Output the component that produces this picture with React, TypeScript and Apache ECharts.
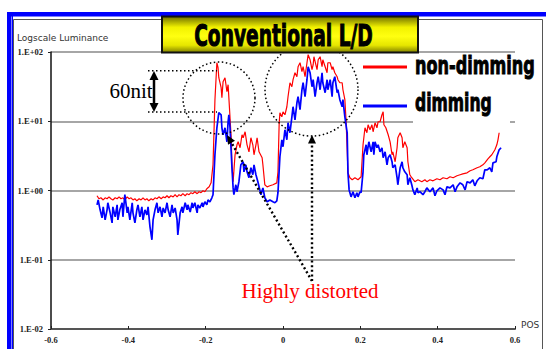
import React, { useEffect, useRef } from "react";
import * as echarts from "echarts";

const titleText = "Conventional L/D";
const seriesNames = ["non-dimming", "dimming"];
const xAxisName = "POS";
const yAxisName = "Logscale Luminance";
const yTickLabels = ["1.E-02", "1.E-01", "1.E+00", "1.E+01", "1.E+02"];

const nonDimming: number[][] = [
  [-0.481,0.84],[-0.476,0.76],[-0.471,0.785],[-0.465,0.73],[-0.460,0.785],[-0.455,0.76],[-0.450,0.81],[-0.445,0.76],
  [-0.440,0.73],[-0.434,0.785],[-0.429,0.76],[-0.424,0.81],[-0.419,0.76],[-0.414,0.785],[-0.409,0.73],[-0.403,0.81],
  [-0.398,0.76],[-0.393,0.785],[-0.388,0.73],[-0.383,0.76],[-0.378,0.71],[-0.372,0.76],[-0.367,0.73],[-0.362,0.785],
  [-0.357,0.73],[-0.352,0.76],[-0.347,0.71],[-0.341,0.76],[-0.336,0.73],[-0.331,0.785],[-0.326,0.76],[-0.321,0.81],
  [-0.315,0.76],[-0.310,0.81],[-0.305,0.785],[-0.300,0.84],[-0.295,0.785],[-0.290,0.84],[-0.284,0.81],[-0.279,0.87],
  [-0.274,0.81],[-0.269,0.87],[-0.264,0.84],[-0.259,0.90],[-0.253,0.84],[-0.248,0.90],[-0.243,0.87],[-0.238,0.93],
  [-0.233,0.90],[-0.228,0.96],[-0.222,0.90],[-0.217,0.96],[-0.212,0.93],[-0.207,0.99],[-0.202,0.96],[-0.197,1.06],
  [-0.191,1.13],[-0.186,1.29],
  [-0.181,2.35],[-0.176,20.5],[-0.171,70.0],[-0.168,59.3],[-0.166,42.5],[-0.160,30.5],[-0.158,21.9],[-0.155,37.2],
  [-0.150,42.5],[-0.145,26.7],[-0.142,33.7],[-0.140,21.9],[-0.134,5.78],[-0.132,2.35],[-0.129,1.34],[-0.124,3.28],
  [-0.119,4.57],[-0.116,5.05],[-0.111,4.14],[-0.106,6.38],[-0.103,5.78],[-0.098,7.05],[-0.093,4.57],[-0.088,3.62],
  [-0.083,5.78],[-0.078,4.57],[-0.075,3.28],[-0.070,4.57],[-0.067,5.78],[-0.062,3.62],[-0.054,2.97],[-0.052,2.35],
  [-0.047,1.21],[-0.041,1.13],[-0.034,1.17],[-0.026,1.21],[-0.016,1.29],[-0.013,1.86],[-0.010,8.90],[-0.008,13.3],
  [-0.003,11.6],[0.000,13.7],[0.005,12.4],[0.010,16.2],[0.013,22.6],[0.018,36.0],[0.023,31.5],[0.026,39.8],
  [0.031,50.2],[0.036,44.0],[0.039,61.3],[0.044,70.0],[0.049,51.9],[0.052,61.3],[0.057,44.0],[0.062,70.0],
  [0.065,91.4],[0.070,77.4],[0.075,55.5],[0.078,65.5],[0.080,85.5],[0.088,55.5],[0.091,77.4],[0.096,85.5],
  [0.101,61.3],[0.103,77.4],[0.109,61.3],[0.114,50.2],[0.116,70.0],[0.122,70.0],[0.127,55.5],[0.129,61.3],
  [0.134,50.2],[0.140,44.0],[0.142,39.8],[0.147,36.0],[0.153,36.0],[0.155,28.5],[0.160,20.5],[0.163,10.5],
  [0.166,3.87],[0.168,1.80],[0.173,1.53],[0.179,1.43],[0.186,1.53],[0.194,1.43],[0.202,1.58],[0.207,4.57],
  [0.212,8.05],[0.217,6.82],[0.220,8.90],[0.225,7.53],[0.230,8.90],[0.233,7.05],[0.238,9.51],[0.243,8.05],
  [0.246,9.84],[0.251,9.84],[0.256,12.4],[0.259,13.7],[0.261,8.90],[0.266,8.05],[0.272,6.38],[0.277,5.05],
  [0.282,3.28],[0.284,3.62],[0.290,2.60],[0.295,4.14],[0.297,5.78],[0.303,6.82],[0.308,5.78],[0.310,4.14],
  [0.315,5.05],[0.321,4.14],[0.323,2.60],[0.328,1.69],[0.333,1.53],[0.341,1.34],[0.349,1.43],[0.359,1.34],
  [0.367,1.43],[0.372,1.34],[0.380,1.43],[0.388,1.38],[0.398,1.48],[0.406,1.43],[0.414,1.53],[0.424,1.48],
  [0.432,1.58],[0.440,1.53],[0.450,1.63],[0.458,1.69],[0.465,1.74],[0.476,1.80],[0.484,1.93],[0.491,1.99],
  [0.502,2.13],[0.509,2.20],[0.517,2.35],[0.522,2.51],[0.530,2.87],[0.535,3.07],[0.540,3.28],[0.548,3.87],
  [0.553,4.57],[0.556,5.40],[0.559,6.82]
];

const dimming: number[][] = [
  [-0.481,0.62],[-0.478,0.73],[-0.473,0.526],[-0.468,0.403],[-0.465,0.58],[-0.460,0.377],[-0.455,0.526],[-0.453,0.665],
  [-0.447,0.476],[-0.442,0.341],[-0.440,0.58],[-0.434,0.417],[-0.429,0.62],[-0.427,0.377],[-0.422,0.526],[-0.416,0.665],
  [-0.414,0.417],[-0.409,0.87],[-0.403,0.476],[-0.401,0.58],[-0.396,0.377],[-0.390,0.665],[-0.388,0.476],[-0.383,0.341],
  [-0.378,0.526],[-0.375,0.62],[-0.370,0.417],[-0.365,0.58],[-0.362,0.377],[-0.357,0.526],[-0.352,0.445],[-0.349,0.58],
  [-0.344,0.299],[-0.339,0.194],[-0.336,0.377],[-0.331,0.526],[-0.326,0.665],[-0.323,0.476],[-0.318,0.58],[-0.313,0.417],
  [-0.310,0.56],[-0.305,0.476],[-0.300,0.665],[-0.297,0.526],[-0.292,0.417],[-0.287,0.62],[-0.284,0.476],[-0.279,0.56],
  [-0.274,0.377],[-0.272,0.229],[-0.266,0.476],[-0.261,0.58],[-0.259,0.476],[-0.253,0.665],[-0.248,0.526],[-0.246,0.62],
  [-0.240,0.49],[-0.235,0.665],[-0.233,0.56],[-0.228,0.665],[-0.222,0.476],[-0.220,0.62],[-0.215,0.56],[-0.209,0.665],
  [-0.207,0.58],[-0.202,0.687],[-0.197,0.62],[-0.194,0.73],[-0.189,0.687],[-0.184,0.785],[-0.181,0.87],
  [-0.176,3.28],[-0.171,8.05],[-0.166,13.3],[-0.160,12.4],[-0.158,8.05],[-0.155,6.38],[-0.150,8.05],[-0.145,5.05],
  [-0.142,9.84],[-0.140,12.4],[-0.137,8.05],[-0.132,2.13],[-0.129,1.09],[-0.127,0.87],[-0.122,1.21],[-0.119,0.96],
  [-0.114,1.34],[-0.109,2.35],[-0.103,2.60],[-0.101,1.86],[-0.096,2.35],[-0.093,1.86],[-0.088,1.53],[-0.083,2.13],
  [-0.078,1.69],[-0.075,2.35],[-0.070,1.69],[-0.065,1.34],[-0.057,0.87],[-0.052,1.09],[-0.047,0.785],[-0.041,0.687],
  [-0.034,0.73],[-0.026,0.687],[-0.021,0.665],[-0.016,0.71],[-0.013,0.93],[-0.008,3.07],[-0.003,5.40],[0.000,4.28],
  [0.005,7.53],[0.010,5.40],[0.013,9.51],[0.018,6.82],[0.023,11.6],[0.026,16.2],[0.031,10.5],[0.036,18.5],
  [0.039,22.6],[0.044,14.7],[0.049,28.5],[0.052,36.0],[0.057,22.6],[0.062,39.8],[0.065,61.3],[0.070,50.2],
  [0.075,31.5],[0.078,39.8],[0.083,22.6],[0.088,36.0],[0.091,44.0],[0.096,28.5],[0.101,50.2],[0.103,36.0],
  [0.109,25.8],[0.114,39.8],[0.116,28.5],[0.122,39.8],[0.127,22.6],[0.129,36.0],[0.134,44.0],[0.140,25.8],
  [0.142,28.5],[0.147,20.5],[0.153,16.2],[0.155,20.5],[0.160,11.6],[0.166,6.82],[0.168,1.80],[0.171,1.02],
  [0.176,0.81],[0.181,0.96],[0.186,0.785],[0.191,0.93],[0.194,0.81],[0.199,0.96],[0.202,0.93],
  [0.207,1.86],[0.209,3.28],[0.215,4.57],[0.217,3.28],[0.222,5.05],[0.228,3.62],[0.233,5.05],[0.235,3.28],
  [0.238,5.05],[0.243,4.14],[0.246,4.57],[0.251,3.62],[0.256,4.14],[0.259,2.97],[0.264,3.62],[0.269,2.35],
  [0.272,2.97],[0.277,3.28],[0.282,2.60],[0.284,2.13],[0.290,2.35],[0.295,1.53],[0.297,1.21],[0.303,2.13],
  [0.308,2.60],[0.310,2.13],[0.315,1.86],[0.321,1.69],[0.323,1.21],[0.328,1.53],[0.333,1.21],[0.336,1.02],
  [0.341,0.87],[0.347,1.09],[0.349,0.93],[0.354,0.96],[0.362,0.87],[0.367,0.96],
  [0.372,1.09],[0.380,0.96],[0.388,1.09],[0.393,0.84],[0.398,0.99],[0.406,1.09],[0.414,1.02],[0.419,0.87],
  [0.424,1.13],[0.432,1.09],[0.440,1.21],[0.445,0.96],[0.450,1.13],[0.458,1.29],[0.465,1.21],[0.471,1.02],
  [0.476,1.34],[0.484,1.29],[0.491,1.43],[0.496,1.17],[0.502,1.38],[0.509,1.53],[0.517,1.48],[0.522,1.99],
  [0.528,1.99],[0.535,2.13],[0.540,1.86],[0.543,2.51],[0.551,2.60],[0.553,3.07],[0.559,3.87],[0.564,4.14]
];

const annotationText = ["60nit", "Highly distorted"];

export default function App() {
  const ref = useRef<HTMLDivElement>(null);

  useEffect(() => {
    const chart = echarts.init(ref.current!, null, { renderer: "svg" });
    const heavy = "'DejaVu Sans', sans-serif";
    const dotStyle = { stroke: "#000", lineWidth: 1.5, lineDash: [1.5, 2.5], fill: "none" };
    const bigDot = { stroke: "#000", lineWidth: 2.4, lineDash: [2, 2.6], fill: "none" };
    const Z = 50;

    chart.setOption({
      animation: false,
      backgroundColor: "#ffffff",
      grid: { left: 51, top: 52, width: 464, height: 277, containLabel: false },
      xAxis: {
        type: "value",
        min: -0.6,
        max: 0.6,
        interval: 0.2,
        splitLine: { show: false },
        axisLine: { show: true, onZero: false, lineStyle: { color: "#555", width: 2 } },
        axisTick: { show: true, length: 3, inside: true, lineStyle: { color: "#222", width: 1 } },
        axisLabel: {
          margin: 6,
          color: "#222",
          fontFamily: "'Liberation Serif', serif",
          fontWeight: "bold",
          fontSize: 8.5,
          formatter: (v: number) => (Math.abs(v) < 1e-9 ? "0" : v.toFixed(1)),
        },
      },
      yAxis: {
        type: "log",
        logBase: 10,
        min: 0.01,
        max: 100,
        axisLine: { show: true, onZero: false, lineStyle: { color: "#111", width: 1.5 } },
        axisTick: { show: true, length: 3, lineStyle: { color: "#222" } },
        splitLine: { show: true, lineStyle: { color: "#888", width: 1.5 } },
        minorTick: { show: false },
        axisLabel: {
          margin: 8,
          color: "#222",
          fontFamily: "'Liberation Serif', serif",
          fontWeight: "bold",
          fontSize: 8.5,
          formatter: (v: number) => {
            const e = Math.round(Math.log10(v));
            return yTickLabels[e + 2] ?? "";
          },
        },
      },
      series: [
        {
          name: seriesNames[0],
          type: "line",
          data: nonDimming,
          showSymbol: false,
          symbol: "none",
          lineStyle: { color: "#ff0000", width: 1.2 },
          z: 3,
        },
        {
          name: seriesNames[1],
          type: "line",
          data: dimming,
          showSymbol: false,
          symbol: "none",
          lineStyle: { color: "#0000ff", width: 1.7 },
          z: 4,
        },
      ],
      graphic: [
        // outer blue frame
        { type: "rect", z: Z, shape: { x: 7, y: 12, width: 539, height: 4.5 }, style: { fill: "#0000ff" } },
        { type: "rect", z: Z, shape: { x: 7, y: 12, width: 4.5, height: 337 }, style: { fill: "#0000ff" } },
        { type: "line", z: Z, shape: { x1: 12.5, y1: 16, x2: 12.5, y2: 349 }, style: { stroke: "#0000ff", lineWidth: 1 } },
        // inner frame
        {
          type: "polyline", z: Z,
          shape: { points: [[13.5, 349], [13.5, 19.5], [542.5, 19.5], [542.5, 349]] },
          style: { stroke: "#555", lineWidth: 1, fill: "none" },
        },
        // y-axis name
        {
          type: "text", z: Z, x: 17, y: 37.5,
          style: { text: yAxisName, fill: "#333", fontSize: 9, fontFamily: "'DejaVu Sans', sans-serif", align: "left", verticalAlign: "middle" },
        },
        // x-axis name
        {
          type: "text", z: Z, x: 521, y: 324.5,
          style: { text: xAxisName, fill: "#333", fontSize: 9, fontFamily: "'DejaVu Sans', sans-serif", align: "left", verticalAlign: "middle" },
        },
        // legend background
        { type: "rect", z: Z, shape: { x: 413, y: 55, width: 97, height: 70 }, style: { fill: "#ffffff" } },
        { type: "line", z: Z, shape: { x1: 363, y1: 67, x2: 407, y2: 67 }, style: { stroke: "#ff0000", lineWidth: 3 } },
        { type: "line", z: Z, shape: { x1: 363, y1: 106, x2: 407, y2: 106 }, style: { stroke: "#0000ff", lineWidth: 3 } },
        {
          type: "text", z: Z + 1, x: 415, y: 66, scaleX: 0.7, scaleY: 1.05,
          style: { text: seriesNames[0], fill: "#000", stroke: "#000", lineWidth: 0.9, fontSize: 23, fontWeight: "bold", fontFamily: heavy, align: "left", verticalAlign: "middle" },
        },
        {
          type: "text", z: Z + 1, x: 415, y: 103, scaleX: 0.68, scaleY: 1.05,
          style: { text: seriesNames[1], fill: "#000", stroke: "#000", lineWidth: 0.9, fontSize: 23, fontWeight: "bold", fontFamily: heavy, align: "left", verticalAlign: "middle" },
        },
        // dotted circles
        { type: "circle", z: Z, shape: { cx: 219, cy: 98, r: 36 }, style: dotStyle },
        { type: "circle", z: Z, shape: { cx: 311.5, cy: 89.5, r: 46.5 }, style: dotStyle },
        // 60nit marks
        { type: "line", z: Z, shape: { x1: 148, y1: 70.7, x2: 217, y2: 70.7 }, style: dotStyle },
        { type: "line", z: Z, shape: { x1: 148, y1: 112, x2: 217, y2: 112 }, style: dotStyle },
        { type: "line", z: Z, shape: { x1: 154, y1: 78, x2: 154, y2: 105 }, style: { stroke: "#000", lineWidth: 2.5 } },
        { type: "polygon", z: Z, shape: { points: [[154, 71], [149.5, 80], [158.5, 80]] }, style: { fill: "#000" } },
        { type: "polygon", z: Z, shape: { points: [[154, 112], [149.5, 103], [158.5, 103]] }, style: { fill: "#000" } },
        {
          type: "text", z: Z, x: 131, y: 91,
          style: { text: annotationText[0], fill: "#000", fontSize: 21, fontFamily: "'Liberation Serif', serif", align: "center", verticalAlign: "middle" },
        },
        // dotted arrows
        { type: "line", z: Z, shape: { x1: 312, y1: 281, x2: 231.5, y2: 142.8 }, style: bigDot },
        { type: "polygon", z: Z, shape: { points: [[227, 135], [235, 140.8], [228, 144.8]] }, style: { fill: "#000" } },
        { type: "line", z: Z, shape: { x1: 312, y1: 281, x2: 312, y2: 143 }, style: bigDot },
        { type: "polygon", z: Z, shape: { points: [[312, 135], [308, 143.5], [316, 143.5]] }, style: { fill: "#000" } },
        {
          type: "text", z: Z, x: 310, y: 291,
          style: { text: annotationText[1], fill: "#ff0000", fontSize: 21, fontFamily: "'Liberation Serif', serif", align: "center", verticalAlign: "middle" },
        },
        // title box
        {
          type: "rect", z: Z + 2, shape: { x: 162, y: 16.5, width: 256, height: 36 },
          style: {
            fill: new echarts.graphic.LinearGradient(0, 0, 0, 1, [
              { offset: 0, color: "#6e6e00" },
              { offset: 0.3, color: "#f2f200" },
              { offset: 0.55, color: "#ffff10" },
              { offset: 0.8, color: "#e6e600" },
              { offset: 1, color: "#808000" },
            ]),
            stroke: "#111", lineWidth: 2,
          },
        },
        {
          type: "text", z: Z + 3, x: 283.5, y: 35.5, scaleX: 0.69, scaleY: 1.1,
          style: { text: titleText, fill: "#000", stroke: "#000", lineWidth: 1, fontSize: 27, fontWeight: "bold", fontFamily: heavy, align: "center", verticalAlign: "middle" },
        },
      ],
    });

    return () => chart.dispose();
  }, []);

  return (
    <div
      ref={ref}
      style={{ position: "absolute", left: 0, top: 0, width: 546, height: 349, background: "#fff" }}
    />
  );
}
